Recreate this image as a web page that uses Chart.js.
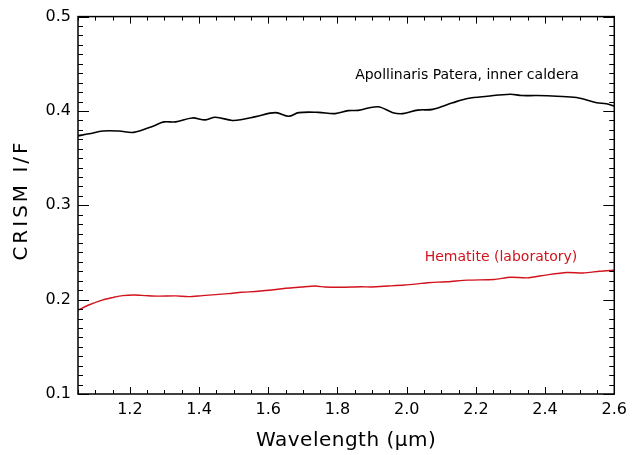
<!DOCTYPE html>
<html>
<head>
<meta charset="utf-8">
<script src="https://cdn.jsdelivr.net/npm/chart.js@4.4.1/dist/chart.umd.min.js"></script>
<style>
  html,body{margin:0;padding:0;background:#fff}
  #wrap{width:633px;height:455px}
</style>
</head>
<body>
<div id="wrap"><canvas id="c" width="633" height="455"></canvas></div>
<script>
// spectra
const CALDERA_WL = [1.050,1.082,1.122,1.168,1.211,1.265,1.298,1.332,1.380,1.418,1.447,1.496,1.524,1.564,1.621,1.659,1.688,1.745,1.793,1.831,1.860,1.917,1.960,1.989,2.032,2.075,2.133,2.176,2.233,2.299,2.333,2.376,2.434,2.491,2.549,2.577,2.600];
const CALDERA_IF = [0.3737,0.3758,0.3787,0.3787,0.3773,0.3836,0.3884,0.3884,0.3926,0.3905,0.3933,0.3899,0.3909,0.3940,0.3982,0.3944,0.3982,0.3985,0.3972,0.4003,0.4006,0.4045,0.3982,0.3972,0.4009,0.4017,0.4087,0.4132,0.4156,0.4177,0.4163,0.4163,0.4156,0.4142,0.4087,0.4077,0.4052];
const HEMATITE_WL = [1.050,1.083,1.122,1.150,1.179,1.212,1.246,1.284,1.332,1.370,1.409,1.447,1.485,1.523,1.544,1.602,1.640,1.697,1.736,1.764,1.812,1.869,1.898,1.946,1.994,2.042,2.061,2.090,2.118,2.176,2.252,2.300,2.348,2.405,2.463,2.510,2.558,2.600];
const HEMATITE_IF = [0.1890,0.1946,0.1998,0.2022,0.2043,0.2050,0.2043,0.2037,0.2040,0.2032,0.2043,0.2053,0.2064,0.2078,0.2082,0.2099,0.2116,0.2134,0.2144,0.2134,0.2131,0.2137,0.2134,0.2144,0.2155,0.2172,0.2179,0.2186,0.2189,0.2207,0.2214,0.2238,0.2231,0.2263,0.2288,0.2283,0.2301,0.2312];
const X_TICKS = [1.2,1.4,1.6,1.8,2.0,2.2,2.4,2.6];
const Y_TICKS = [0.1,0.2,0.3,0.4,0.5];
const LABEL_CALDERA = 'Apollinaris Patera, inner caldera';
const LABEL_HEMATITE = 'Hematite (laboratory)';
const RED = '#d2121c';
const FONT = '"DejaVu Sans", sans-serif';

function pts(xs, ys){ return xs.map((x,i)=>({x, y:ys[i]})); }

// IDL-style box with inward ticks, plus titles and curve labels
const frame = {
  id:'frame',
  afterDatasetsDraw(chart){
    const {ctx, chartArea:a, scales:{x,y}} = chart;
    ctx.save();
    ctx.strokeStyle='#000';
    ctx.lineWidth=1.5;
    ctx.strokeRect(a.left,a.top,a.right-a.left,a.bottom-a.top);
    ctx.lineWidth=1;
    ctx.beginPath();
    for(let i=0;i<=31;i++){
      const v=1.05+i*0.05, px=Math.round(x.getPixelForValue(v))+0.5;
      const major=X_TICKS.some(t=>Math.abs(t-v)<1e-6);
      const L=major?7:4;
      ctx.moveTo(px,a.bottom); ctx.lineTo(px,a.bottom-L);
      ctx.moveTo(px,a.top); ctx.lineTo(px,a.top+L);
    }
    for(let i=0;i<=40;i++){
      const v=0.1+i*0.01, py=Math.round(y.getPixelForValue(v))+0.5;
      const L=(i%10===0)?11:5;
      ctx.moveTo(a.left,py); ctx.lineTo(a.left+L,py);
      ctx.moveTo(a.right,py); ctx.lineTo(a.right-L,py);
    }
    ctx.stroke();

    ctx.fillStyle='#000';
    ctx.textAlign='center';
    ctx.textBaseline='middle';
    ctx.font='20px '+FONT;
    ctx.letterSpacing='0.5px';
    ctx.fillText('Wavelength (\u03bcm)',(a.left+a.right)/2,441);
    ctx.save();
    ctx.translate(22,200);
    ctx.rotate(-Math.PI/2);
    ctx.letterSpacing='3px';
    ctx.fillText('CRISM I/F',0,0);
    ctx.restore();

    ctx.letterSpacing='0px';
    ctx.font='14px '+FONT;
    ctx.fillText(LABEL_CALDERA,467,75);
    ctx.fillStyle=RED;
    ctx.fillText(LABEL_HEMATITE,501,257);
    ctx.restore();
  }
};

new Chart(document.getElementById('c').getContext('2d'),{
  type:'line',
  data:{datasets:[
    {data:pts(CALDERA_WL,CALDERA_IF),borderColor:'#000',borderWidth:1.6,pointRadius:0,tension:0.35},
    {data:pts(HEMATITE_WL,HEMATITE_IF),borderColor:RED,borderWidth:1.4,pointRadius:0,tension:0.25}
  ]},
  options:{
    responsive:false,
    animation:false,
    devicePixelRatio:1,
    layout:{padding:{left:0,right:15,top:12,bottom:0}},
    plugins:{legend:{display:false},tooltip:{enabled:false}},
    scales:{
      x:{
        type:'linear',min:1.05,max:2.6,
        grid:{display:false,drawTicks:false},border:{display:false},
        afterBuildTicks:s=>{s.ticks=X_TICKS.map(value=>({value}));},
        afterFit:s=>{s.height=61;},
        ticks:{color:'#000',font:{family:FONT,size:16},padding:6,maxRotation:0,autoSkip:false,
          callback:v=>Number(v).toFixed(1)}
      },
      y:{
        type:'linear',min:0.1,max:0.5,
        grid:{display:false,drawTicks:false},border:{display:false},
        afterBuildTicks:s=>{s.ticks=Y_TICKS.map(value=>({value}));},
        afterFit:s=>{s.width=78;},
        ticks:{color:'#000',font:{family:FONT,size:16},padding:7,
          callback:v=>Number(v).toFixed(1)}
      }
    }
  },
  plugins:[frame]
});
</script>
</body>
</html>
